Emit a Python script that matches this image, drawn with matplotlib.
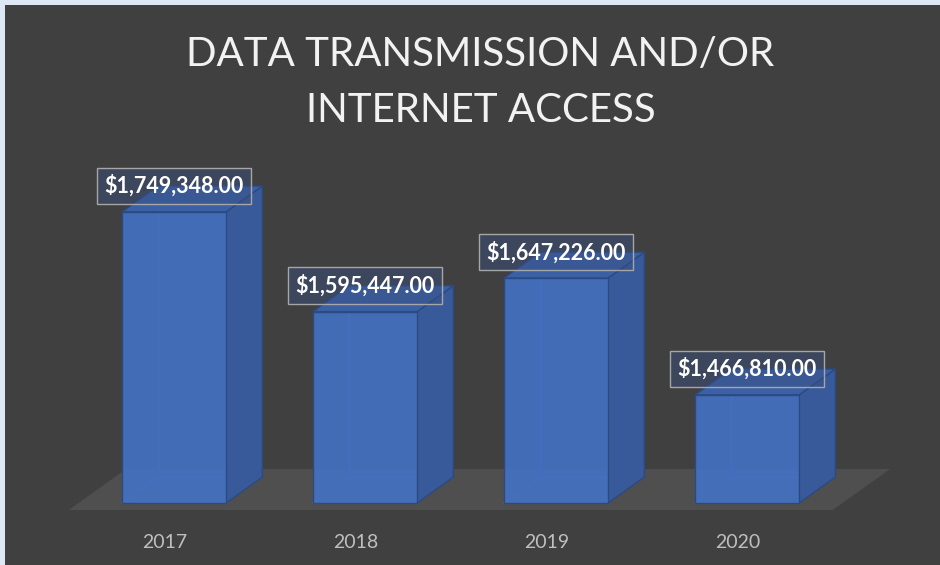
import matplotlib
matplotlib.use("Agg")
import matplotlib.pyplot as plt
from matplotlib.patches import Polygon, Rectangle

# Data
years = ["2017", "2018", "2019", "2020"]
amounts = [1749348.00, 1595447.00, 1647226.00, 1466810.00]
title_lines = ["DATA TRANSMISSION AND/OR", "INTERNET ACCESS"]

# value axis of the 3-D chart starts at 1.3M
y_min, y_max = 1300000, 1800000

# look
bg = "#404040"
frame = "#dde8f4"
floor_col = "#504f4f"
front_col = "#4472c4"
side_col = "#395a9a"
top_col = "#3b60a6"
edge_col = "#2c4a82"
bar_w = 0.545
depth_x = 0.19      # depth of the 3-D bars, category units
depth_y = 40000     # depth of the 3-D bars, value units

fig = plt.figure(figsize=(9.4, 5.65), dpi=100)
fig.patch.set_facecolor(frame)
fig.patches.append(Rectangle((5 / 940, -0.05), 1.1, 1.05 - 5 / 565, transform=fig.transFigure,
                             facecolor=bg, edgecolor="none", zorder=-5))

ax = fig.add_axes([59.4 / 940, 62 / 565, 4.2 * 191 / 940, 323.9 / 565])
ax.set_xlim(-0.6, 3.6)
ax.set_ylim(y_min, y_max)
ax.axis("off")


def shift(x, y, k):
    return (x + k * depth_x, y + k * depth_y)


# floor
gap_front, gap_back = -0.27, 1.31
floor = [shift(-0.5, y_min, gap_front), shift(3.5, y_min, gap_front),
         shift(3.5, y_min, gap_back), shift(-0.5, y_min, gap_back)]
ax.add_patch(Polygon(floor, closed=True, facecolor=floor_col, edgecolor="none",
                     zorder=1, clip_on=False))

for i, (yr, val) in enumerate(zip(years, amounts)):
    x0, x1 = i - bar_w / 2, i + bar_w / 2
    b, t = y_min, val
    # hidden back edges seen through the front face
    bx, by = shift(x0, b, 1)
    ax.plot([x0, bx, shift(x1, b, 1)[0]], [b, by, by], color="#3a66b0", lw=1,
            zorder=2, clip_on=False)
    ax.plot([bx, bx], [by, shift(x0, t, 1)[1]], color="#3a66b0", lw=1,
            zorder=2, clip_on=False)
    side = [(x1, b), shift(x1, b, 1), shift(x1, t, 1), (x1, t)]
    top = [(x0, t), (x1, t), shift(x1, t, 1), shift(x0, t, 1)]
    ax.add_patch(Polygon(side, closed=True, facecolor=side_col, edgecolor=edge_col,
                         lw=1, zorder=2, clip_on=False))
    ax.add_patch(Polygon(top, closed=True, facecolor=top_col, edgecolor=edge_col,
                         lw=1, zorder=2, clip_on=False))
    ax.add_patch(Rectangle((x0, b), bar_w, t - b, facecolor=front_col, alpha=0.9,
                           edgecolor="none", zorder=3, clip_on=False))
    ax.add_patch(Rectangle((x0, b), bar_w, t - b, facecolor="none",
                           edgecolor=edge_col, lw=1, zorder=3, clip_on=False))

    # data label
    ax.text(i, t + depth_y, f"${val:,.2f}", ha="center", va="center",
            fontsize=15.5, fontweight="bold", family="Lato", color="white", zorder=5,
            bbox=dict(boxstyle="square,pad=0.33", facecolor=(0.22, 0.31, 0.5, 0.45),
                      edgecolor="#a6a6a6", lw=1))

    # category label
    lx, ly = shift(i, y_min, -0.25)
    ax.annotate(yr, (lx, ly), xytext=(0, -24), textcoords="offset points",
                ha="center", va="center", fontsize=14, family="Lato",
                color="#bfbfbf", annotation_clip=False)

fig.text(480.5 / 940, 1 - 55 / 565, title_lines[0], ha="center", va="center",
         fontsize=29, family="Lato", color="#f2f2f2")
fig.text(480.5 / 940, 1 - 110 / 565, title_lines[1], ha="center", va="center",
         fontsize=29, family="Lato", color="#f2f2f2")

plt.savefig("out.png", dpi=100, facecolor=fig.get_facecolor())
